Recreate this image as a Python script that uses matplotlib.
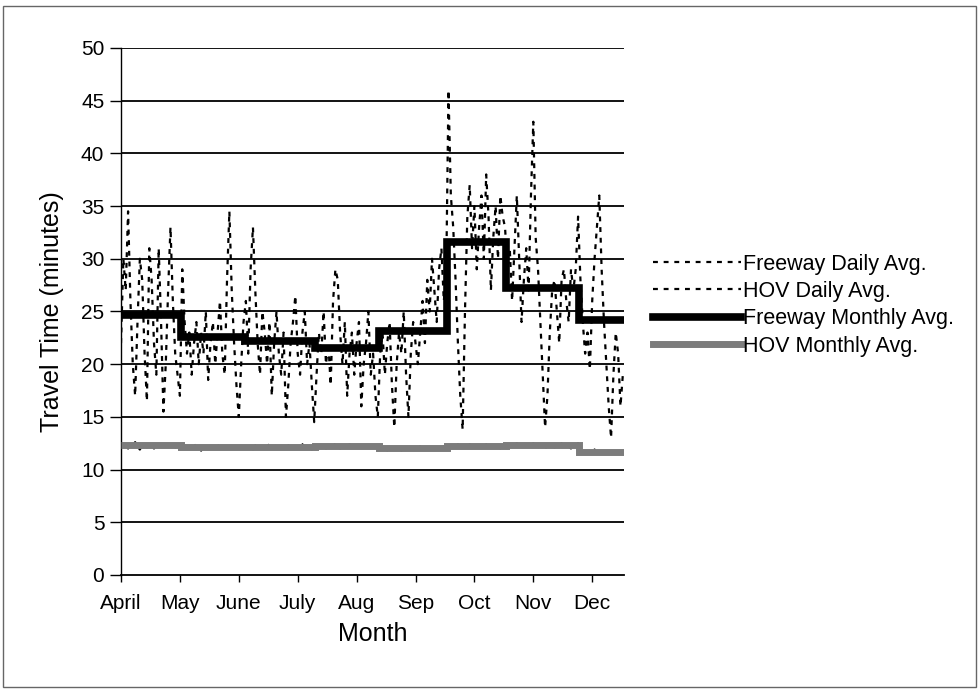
import numpy as np
import matplotlib
matplotlib.use("Agg")
import matplotlib.pyplot as plt
from matplotlib.patches import Rectangle

plt.rcParams['font.family'] = ['Liberation Sans', 'DejaVu Sans']

month_labels = ["April", "May", "June", "July", "Aug", "Sep", "Oct", "Nov", "Dec"]

# freeway daily average travel time, one list per month block
fwy_daily = [
    [22, 30, 27, 34.5, 26, 20, 17, 24, 30, 28, 21, 16.5, 31, 28, 22, 19, 31, 24, 15.5, 20,
     27, 33, 26, 21, 19, 17],
    [29, 24, 21, 23, 19, 22, 24, 20, 23, 21, 25, 18.5, 22, 24, 20, 23, 26, 21, 19, 28,
     34.5, 27, 22, 18, 15, 20, 24],
    [26, 21, 29, 33, 27, 22, 19, 25, 23, 20, 24, 17, 22, 25, 21, 19, 23, 15, 18, 22,
     24, 26.5, 21, 19, 23, 25, 20, 22, 18, 14.5],
    [19, 23, 21, 25, 20, 22, 18, 26, 29, 28, 23, 20, 24, 17, 21, 23, 19, 22, 24, 16,
     20, 22, 25, 19, 21, 17, 15],
    [21, 23, 19, 22, 24, 18, 14, 20, 23, 21, 25, 19, 15, 21, 24, 22, 20, 23, 26, 22,
     28, 25, 30, 27, 24, 29, 31, 26, 28],
    [46, 36, 33, 28, 22, 17, 13.8, 25, 34, 37, 31, 35, 29, 33, 36, 30, 38, 34, 27, 32,
     35, 30, 36, 34, 33],
    [29, 31, 26, 31, 36, 30, 24, 28, 31, 27, 36, 43, 32, 29, 24, 19, 14, 17, 23, 27,
     28, 25, 22, 28, 29, 26, 24, 29, 27, 29, 34],
    [28, 24, 21, 23, 19.5, 26, 30, 33, 36, 29, 24, 20, 16, 13, 19, 23, 21, 16, 19],
]

hov_daily = [
    [12.5, 12.2, 12.4, 12.0, 12.3, 12.1, 12.6, 12.2, 11.9, 12.3, 12.4, 12.1, 12.2, 12.5,
     12.0, 12.3, 12.2, 12.4, 12.1, 12.0, 12.3, 12.2, 12.5, 12.1, 12.2, 12.0],
    [12.1, 12.3, 11.9, 12.2, 12.0, 12.4, 12.1, 12.2, 11.8, 12.1, 12.3, 12.0, 12.2, 12.1,
     11.9, 12.2, 12.4, 12.0, 12.1, 12.3, 12.0, 12.2, 11.9, 12.1, 12.2, 12.0, 12.3],
    [12.0, 12.2, 12.1, 11.9, 12.3, 12.0, 12.2, 12.1, 11.8, 12.2, 12.4, 12.0, 12.1, 12.3,
     11.9, 12.1, 12.2, 12.0, 12.3, 12.1, 11.9, 12.2, 12.0, 12.1, 12.4, 12.0, 12.2, 12.1,
     11.9, 12.2],
    [12.3, 12.1, 12.2, 12.4, 12.0, 12.3, 12.2, 12.1, 12.5, 12.2, 12.0, 12.3, 12.1, 12.2,
     12.4, 12.0, 12.2, 12.3, 12.1, 12.0, 12.2, 12.4, 12.1, 12.3, 12.2, 12.0, 12.2],
    [11.9, 12.1, 12.0, 11.8, 12.2, 12.0, 11.9, 12.1, 12.0, 11.8, 12.1, 12.2, 11.9, 12.0,
     12.1, 11.8, 12.0, 12.2, 11.9, 12.1, 12.0, 11.9, 12.2, 12.0, 12.1, 11.9, 12.0, 12.2,
     12.0],
    [12.3, 12.1, 12.2, 11.9, 12.4, 12.1, 12.3, 12.0, 12.2, 12.4, 12.1, 12.2, 12.0, 12.3,
     12.2, 12.1, 12.4, 12.0, 12.2, 12.3, 12.1, 12.2, 12.0, 12.3, 12.2],
    [12.2, 12.4, 12.1, 12.3, 12.5, 12.2, 12.0, 12.3, 12.4, 12.1, 12.2, 12.5, 12.3, 12.1,
     12.2, 12.4, 12.0, 12.3, 12.2, 12.4, 12.1, 12.3, 12.2, 12.5, 12.1, 12.3, 12.2, 12.0,
     12.4, 12.3, 12.5],
    [11.8, 11.6, 11.9, 11.7, 11.5, 11.8, 11.9, 11.6, 11.7, 11.8, 11.5, 11.9, 11.7, 11.6,
     11.8, 11.9, 11.7, 11.6, 11.8],
]

fwy_monthly = [24.7, 22.6, 22.2, 21.5, 23.1, 31.6, 27.2, 24.2]
hov_monthly = [12.3, 12.1, 12.1, 12.2, 12.0, 12.2, 12.3, 11.7]

lengths = [len(m) for m in fwy_daily]
fwy = np.concatenate(fwy_daily)
hov = np.concatenate(hov_daily)
x = np.arange(len(fwy))
edges = np.concatenate([[0], np.cumsum(lengths) - 0.5])

fig = plt.figure(figsize=(9.79, 6.89), dpi=100)
ax = fig.add_axes([0.1236, 0.1655, 0.5138, 0.7649])

for yv in range(5, 55, 5):
    ax.axhline(yv, color='black', lw=1.3, zorder=1)

dash = (0, (2.2, 2.6))
l1, = ax.plot(x, fwy, color='black', lw=1.6, ls=dash, zorder=2,
              label='Freeway Daily Avg.')
l2, = ax.plot(x, hov, color='black', lw=1.6, ls=dash, zorder=2,
              label='HOV Daily Avg.')
ax.stairs(fwy_monthly, edges, baseline=None, color='black', lw=5.5, zorder=4)
ax.stairs(hov_monthly, edges, baseline=None, color='#7c7c7c', lw=5, zorder=3)
h3, = ax.plot([], [], color='black', lw=5.5, label='Freeway Monthly Avg.')
h4, = ax.plot([], [], color='#7c7c7c', lw=5, label='HOV Monthly Avg.')

ax.set_xlim(0, 213.5)
ax.set_ylim(0, 50)
ax.set_yticks(range(0, 55, 5))
ax.set_xticks(range(0, 201, 25))
ax.set_xticklabels(month_labels)
ax.tick_params(axis='y', direction='out', length=8, width=1, labelsize=15, pad=4)
ax.tick_params(axis='x', direction='out', length=5, width=1, labelsize=15, pad=9)
for s in ['top', 'right']:
    ax.spines[s].set_visible(False)
ax.spines['left'].set_linewidth(1)
ax.spines['bottom'].set_linewidth(1.3)

ax.set_ylabel('Travel Time (minutes)', fontsize=18, labelpad=12)
ax.set_xlabel('Month', fontsize=18, labelpad=6)

fig.legend(handles=[l1, l2, h3, h4], loc='center left',
           bbox_to_anchor=(0.667, 0.557), frameon=False, fontsize=15.5,
           handlelength=4.1, handletextpad=0.1, labelspacing=0.3,
           borderaxespad=0, borderpad=0)

fig.patches.append(Rectangle((0.003, 0.003), 0.994, 0.989, transform=fig.transFigure,
                             fill=False, edgecolor='#666666', lw=1))

fig.savefig('out.png', dpi=100)
